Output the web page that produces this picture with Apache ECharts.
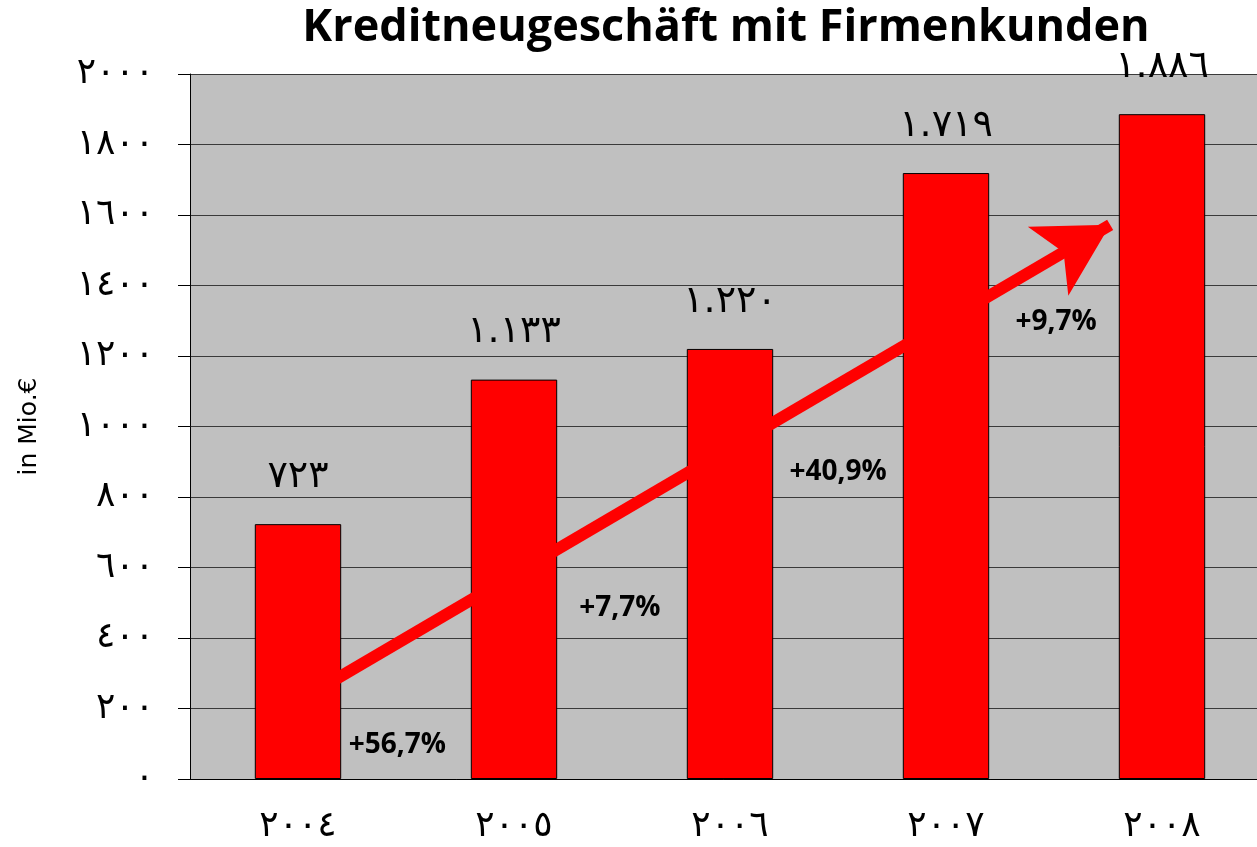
<!DOCTYPE html>
<html>
<head>
<meta charset="utf-8">
<script src="https://cdn.jsdelivr.net/npm/echarts@6/dist/echarts.min.js"></script>
<style>
  html, body { margin: 0; padding: 0; background: #fff; }
  #chart { width: 1257px; height: 847px; }
</style>
</head>
<body>
<div id="chart"></div>
<script>
// data
var years = ['٢٠٠٤', '٢٠٠٥', '٢٠٠٦', '٢٠٠٧', '٢٠٠٨'];
var volumes = [723, 1133, 1220, 1719, 1886];
var growthLabels = ['+56,7%', '+7,7%', '+40,9%', '+9,7%'];
// growth label anchors: x in category units (0..5), y in Mio. €
var growthX = [0.96, 1.99, 3.0, 4.01];
var growthY = [96, 485, 871, 1296];
// trend arrow, same units
var arrowFrom = [0.67, 281];
var arrowTo = [4.26, 1572];

var arabic = '٠١٢٣٤٥٦٧٨٩';
function toArabic(s) {
  return String(s).replace(/[0-9]/g, function (d) { return arabic[+d]; });
}
function fmtThousands(v) {
  var s = String(v);
  if (s.length > 3) s = s.slice(0, s.length - 3) + '.' + s.slice(-3);
  return toArabic(s);
}

var chart = echarts.init(document.getElementById('chart'));

chart.setOption({
  animation: false,
  backgroundColor: '#fff',
  title: {
    text: 'Kreditneugeschäft mit Firmenkunden',
    left: 721,
    textAlign: 'center',
    top: 1,
    textStyle: {
      fontFamily: 'Open Sans',
      fontWeight: 'bold',
      fontSize: 45,
      color: '#000'
    }
  },
  grid: {
    left: 190,
    width: 1080,
    top: 74,
    bottom: 68,
    containLabel: false,
    outerBoundsMode: 'none',
    show: true,
    backgroundColor: '#c0c0c0',
    borderWidth: 0
  },
  xAxis: [
    {
      type: 'category',
      data: years,
      axisLine: { lineStyle: { color: '#000', width: 1 } },
      axisTick: { length: 12, lineStyle: { color: '#555' } },
      axisLabel: {
        margin: 30,
        fontFamily: 'DejaVu Sans',
        fontSize: 36,
        color: '#000'
      }
    },
    {
      type: 'value',
      min: 0,
      max: 5,
      show: false
    }
  ],
  yAxis: {
    type: 'value',
    min: 0,
    max: 2000,
    interval: 200,
    name: 'in Mio.€',
    nameLocation: 'middle',
    nameRotate: 90,
    nameGap: 148,
    nameTextStyle: {
      fontFamily: 'DejaVu Sans',
      fontSize: 25,
      color: '#000'
    },
    axisLine: { show: true, lineStyle: { color: '#000', width: 1 } },
    axisTick: { show: true, length: 12, lineStyle: { color: '#000' } },
    axisLabel: {
      margin: 36,
      formatter: function (v) { return toArabic(v); },
      fontFamily: 'DejaVu Sans',
      fontSize: 36,
      color: '#000'
    },
    splitLine: { lineStyle: { color: '#3a3a3a', width: 1 } }
  },
  series: [
    {
      type: 'bar',
      data: volumes,
      barWidth: '40%',
      z: 3,
      itemStyle: { color: '#ff0000', borderColor: '#000', borderWidth: 1 },
      label: {
        show: true,
        position: 'top',
        distance: 28,
        formatter: function (p) { return fmtThousands(p.value); },
        fontFamily: 'DejaVu Sans',
        fontSize: 38,
        color: '#000'
      }
    },
    {
      type: 'scatter',
      xAxisIndex: 1,
      z: 1,
      symbolSize: 0,
      itemStyle: { opacity: 1 },
      data: growthX.map(function (x, i) { return [x, growthY[i]]; }),
      label: {
        show: true,
        position: 'inside',
        formatter: function (p) { return growthLabels[p.dataIndex]; },
        fontFamily: 'Open Sans',
        fontWeight: 'bold',
        fontSize: 28,
        color: '#000'
      },
      markLine: {
        silent: true,
        symbol: ['none', 'arrow'],
        symbolSize: [60, 72],
        label: { show: false },
        lineStyle: { color: '#ff0000', width: 12, type: 'solid', opacity: 1 },
        data: [[{ coord: arrowFrom }, { coord: arrowTo }]]
      }
    }
  ]
});
</script>
</body>
</html>
